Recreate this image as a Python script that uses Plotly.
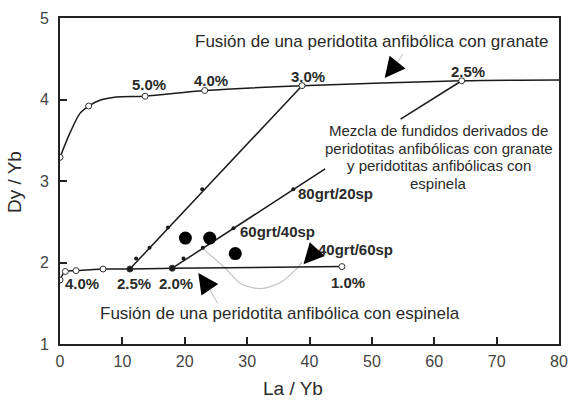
import plotly.graph_objects as go

# --- Data ---
# Melting curve of garnet amphibole peridotite (line + open circles)
garnet_curve_x = [0, 1.6, 3.2, 4.6, 6.4, 9.0, 13.65, 23.2, 38.8, 64.4, 80]
garnet_curve_y = [3.29, 3.59, 3.83, 3.92, 3.99, 4.03, 4.04, 4.11, 4.17, 4.23, 4.24]
garnet_pts_x = [0, 4.6, 13.65, 23.2, 38.8, 64.4]
garnet_pts_y = [3.29, 3.92, 4.04, 4.11, 4.17, 4.23]

# Melting curve of spinel amphibole peridotite
spinel_curve_x = [0, 0.85, 2.57, 6.9, 11.2, 18.0, 45.2]
spinel_curve_y = [1.785, 1.89, 1.90, 1.92, 1.92, 1.93, 1.95]
spinel_open_x = [0, 0.85, 2.57, 6.9, 45.2]
spinel_open_y = [1.785, 1.89, 1.90, 1.92, 1.95]
spinel_fill_x = [11.2, 18.0]
spinel_fill_y = [1.92, 1.93]

# Mixing lines
mix1_x = [11.2, 38.8]
mix1_y = [1.92, 4.17]
mix1_dots_x = [12.2, 14.35, 17.3, 22.8]
mix1_dots_y = [2.05, 2.18, 2.43, 2.90]
mix2_x = [18.0, 42.5]
mix2_y = [1.93, 3.15]
mix2_dots_x = [19.8, 22.9, 27.8, 37.4]
mix2_dots_y = [2.05, 2.18, 2.42, 2.90]
leader_x = [54.6, 64.4]
leader_y = [3.76, 4.23]

# Samples (big black dots)
samples_x = [20.1, 24.0, 28.1]
samples_y = [2.30, 2.30, 2.11]

# Grey curved leader
grey_x = [22.9, 26.5, 29.0, 32.1, 35.5, 38.0, 38.8]
grey_y = [2.17, 1.93, 1.74, 1.68, 1.76, 1.93, 2.00]

# Percent labels
top_pct_labels = ["5.0%", "4.0%", "3.0%", "2.5%"]
top_pct_x = [14.25, 24.2, 39.8, 65.4]
top_pct_y = [4.18, 4.23, 4.28, 4.34]
low_pct_labels = ["4.0%", "2.5%", "2.0%", "1.0%"]
low_pct_x = [3.45, 11.9, 18.55, 46.2]
low_pct_y = [1.745, 1.745, 1.745, 1.75]

mix_labels = ["80grt/20sp", "60grt/40sp", "40grt/60sp"]
mix_label_x = [44.2, 34.9, 47.4]
mix_label_y = [2.85, 2.38, 2.16]

mezcla_lines = ["Mezcla de fundidos derivados de",
                "peridotitas anfibólicas con granate",
                "y peridotitas anfibólicas con",
                "espinela"]

FONT = "Liberation Sans, Arial, sans-serif"
DARK = "#1a1a1a"
TXT = "#2a2a2a"

fig = go.Figure()

def line(x, y, color=DARK, width=1.5, shape="linear"):
    fig.add_trace(go.Scatter(x=x, y=y, mode="lines", hoverinfo="skip",
                             line=dict(color=color, width=width, shape=shape, smoothing=0.8)))

line(grey_x, grey_y, color="#c4c4c4", width=1.2, shape="spline")
line(garnet_curve_x, garnet_curve_y, shape="spline")
line(spinel_curve_x, spinel_curve_y, shape="spline")
line(mix1_x, mix1_y)
line(mix2_x, mix2_y)
line(leader_x, leader_y)

def pts(x, y, size, fill, lw=1.0):
    fig.add_trace(go.Scatter(x=x, y=y, mode="markers", hoverinfo="skip",
                             marker=dict(size=size, color=fill, line=dict(color="#333", width=lw))))

pts(garnet_pts_x, garnet_pts_y, 6, "white")
pts(spinel_open_x, spinel_open_y, 6, "white")
pts(spinel_fill_x, spinel_fill_y, 6, DARK)
pts(mix1_dots_x, mix1_dots_y, 4, DARK, 0)
pts(mix2_dots_x, mix2_dots_y, 4, DARK, 0)
pts(samples_x, samples_y, 13, "black", 0)

ann = []
for t, x, y in zip(top_pct_labels + low_pct_labels, top_pct_x + low_pct_x, top_pct_y + low_pct_y):
    ann.append(dict(x=x, y=y, text="<b>%s</b>" % t, showarrow=False,
                    font=dict(family=FONT, size=15, color=TXT)))
for t, x, y in zip(mix_labels, mix_label_x, mix_label_y):
    ann.append(dict(x=x, y=y, text="<b>%s</b>" % t, showarrow=False,
                    font=dict(family=FONT, size=15, color=TXT)))

ann.append(dict(x=50.0, y=4.71, text="Fusión de una peridotita anfibólica con granate",
                showarrow=False, font=dict(family=FONT, size=17, color=TXT)))
ann.append(dict(x=35.2, y=1.38, text="Fusión de una peridotita anfibólica con espinela",
                showarrow=False, font=dict(family=FONT, size=17, color=TXT)))
for i, t in enumerate(mezcla_lines):
    ann.append(dict(x=60.7, y=3.62 - i * 0.217, text=t, showarrow=False,
                    font=dict(family=FONT, size=15, color=TXT)))

# grey leader lines to arrowheads
ann.append(dict(x=54.1, y=4.45, ax=55.1, ay=4.58, axref="x", ayref="y", text="",
                showarrow=True, arrowhead=0, arrowwidth=1, arrowcolor="#bdbdbd"))
ann.append(dict(x=23.8, y=1.70, ax=25.4, ay=1.48, axref="x", ayref="y", text="",
                showarrow=True, arrowhead=0, arrowwidth=1, arrowcolor="#bdbdbd"))
# black arrowheads
for x, y, ax, ay in [(52.05, 4.264, 13, -16), (22.17, 1.871, 11, 16), (39.04, 1.98, 11, -12)]:
    ann.append(dict(x=x, y=y, ax=ax, ay=ay, text="", showarrow=True, arrowhead=2,
                    arrowsize=3.4, arrowwidth=1.2, arrowcolor="black", standoff=0))

# axis titles
ann.append(dict(x=-0.09, y=0.497, xref="paper", yref="paper", text="Dy / Yb", textangle=-90,
                xanchor="center", yanchor="middle",
                showarrow=False, font=dict(family=FONT, size=19, color=TXT)))
ann.append(dict(x=0.466, y=-0.135, xref="paper", yref="paper", text="La / Yb",
                xanchor="center", yanchor="middle",
                showarrow=False, font=dict(family=FONT, size=19, color=TXT)))

fig.update_layout(
    width=568, height=400,
    margin=dict(l=60, r=9, t=18, b=56, autoexpand=False),
    paper_bgcolor="white", plot_bgcolor="white",
    showlegend=False,
    annotations=ann,
    font=dict(family=FONT, color=TXT),
)
fig.update_xaxes(range=[0, 80], dtick=10, tick0=0, showgrid=False, zeroline=False,
                 showline=True, linecolor="#222", linewidth=2, mirror=True,
                 ticks="inside", ticklen=7, tickwidth=1.5, tickcolor="#222",
                 ticklabelstandoff=2, automargin=False,
                 tickfont=dict(family=FONT, size=16, color="#444"))
fig.update_yaxes(range=[1, 5], dtick=1, tick0=1, showgrid=False, zeroline=False,
                 showline=True, linecolor="#222", linewidth=2, mirror=True,
                 ticks="inside", ticklen=7, tickwidth=1.5, tickcolor="#222",
                 ticklabelstandoff=6, automargin=False,
                 tickfont=dict(family=FONT, size=16, color="#444"))

fig.write_html("out.html", config={"displayModeBar": False},
               post_script="document.body.style.margin='0';document.body.style.overflow='hidden';")
